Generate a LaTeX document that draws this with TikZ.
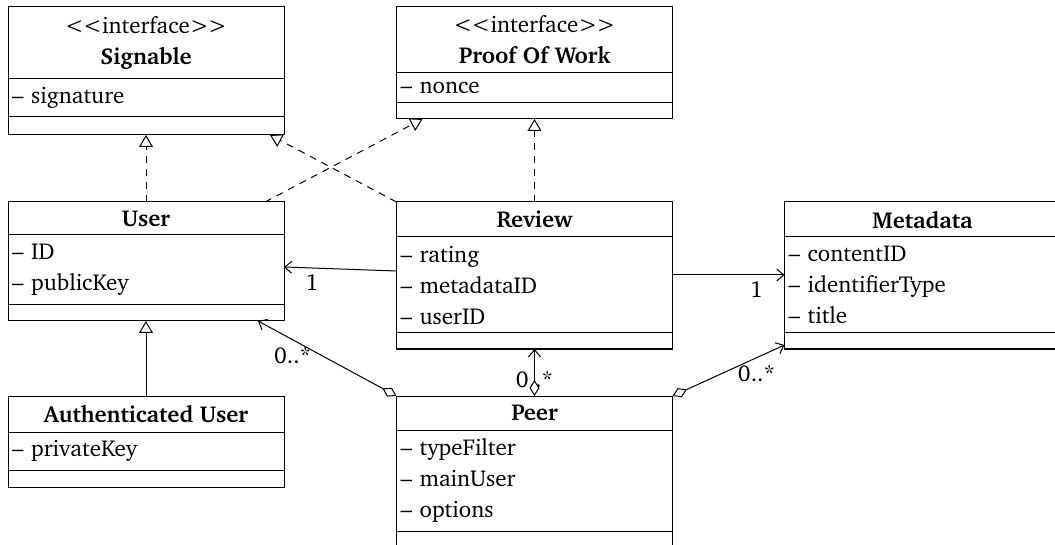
\documentclass[tikz,border=0pt]{standalone}
\usepackage[T1]{fontenc}
\usepackage{charter}
\usetikzlibrary{arrows.meta,positioning}

\newcommand{\iface}{\textless\kern-0.6pt\textless interface\textgreater\kern-0.6pt\textgreater}

\begin{document}
\begin{tikzpicture}[x=0.5pt,y=-0.5pt,line width=0.5pt,
        font=\fontsize{11.5}{15.5}\selectfont,
        >={Straight Barb[length=3.5pt,width=6pt]},
        box/.style={draw,outer sep=0pt,inner sep=0pt,minimum width=138pt},
        head/.style={box,align=center},
        attrs/.style={box,align=left,text width=134pt,inner xsep=2pt},
        real/.style={dash pattern=on 3.5pt off 3pt,-{Triangle[open,length=6pt,width=7pt]}},
        inherit/.style={-{Triangle[open,length=6pt,width=7pt]}},
        agg/.style={{Diamond[fill=white,length=8pt,width=5pt]}->}]
\useasboundingbox (0,0) rectangle (1055,545);

% interfaces
\node[head,anchor=north,minimum height=36pt] (signable) at (146,7) {\iface\\\textbf{Signable}};
\node[attrs,below=0pt of signable,minimum height=19pt] (signableattr) {-- signature};
\node[box,below=0pt of signableattr,minimum height=9pt] (signableops) {};

\node[head,anchor=north,minimum height=33pt] (proof) at (534.5,7) {\iface\\\textbf{Proof Of Work}};
\node[attrs,below=0pt of proof,minimum height=15pt] (proofattr) {-- nonce};
\node[box,below=0pt of proofattr,minimum height=8pt] (proofops) {};

% classes
\node[head,anchor=north,minimum height=16.5pt] (user) at (146,202) {\textbf{User}};
\node[attrs,below=0pt of user,minimum height=35pt] (userattr) {-- ID\\-- publicKey};
\node[box,below=0pt of userattr,minimum height=8pt] (userops) {};

\node[head,anchor=north,minimum height=17.5pt] (review) at (534.5,202) {\textbf{Review}};
\node[attrs,below=0pt of review,minimum height=48pt] (reviewattr) {-- rating\\-- metadataID\\-- userID};
\node[box,below=0pt of reviewattr,minimum height=8pt] (reviewops) {};

\node[head,anchor=north,minimum height=17.5pt] (meta) at (922.5,202) {\textbf{Metadata}};
\node[attrs,below=0pt of meta,minimum height=48pt] (metaattr) {-- contentID\\-- identifierType\\-- title};
\node[box,below=0pt of metaattr,minimum height=8pt] (metaops) {};

\node[head,anchor=north,minimum height=18pt] (auth) at (146,396) {\textbf{Authenticated User}};
\node[attrs,below=0pt of auth,minimum height=19pt] (authattr) {-- privateKey};
\node[box,below=0pt of authattr,minimum height=8.5pt] (authops) {};

\node[head,anchor=north,minimum height=17pt] (peer) at (534.5,396) {\textbf{Peer}};
\node[attrs,below=0pt of peer,minimum height=50.5pt] (peerattr) {-- typeFilter\\-- mainUser\\-- options};
\node[box,below=0pt of peerattr,minimum height=15pt] (peerops) {};

% realization and inheritance
\draw[real] (user.north) -- (signableops.south);
\draw[real] ([xshift=-9.5pt]user.north east) -- ([xshift=13pt]proofops.south west);
\draw[real] (review.north west) -- ([xshift=-7pt]signableops.south east);
\draw[real] (review.north) -- (proofops.south);
\draw[inherit] (auth.north) -- (userops.south);

% associations
\draw[->] ([yshift=7pt]reviewattr.west) -- node[pos=0.75,below] (reviewusermult) {1} ([yshift=1.5pt]userattr.east);
\draw[->] ([yshift=5pt]reviewattr.east) -- node[pos=0.75,below] (reviewmetamult) {1} ([yshift=5pt]metaattr.west);

\path (peer.north) -- node[pos=0.35] (peerreviewmult) {0..*} (reviewops.south);
\draw[agg] (peer.north) -- (reviewops.south);
\draw[agg] (peer.north west) -- node[pos=0.75,below] (peerusermult) {0..*} ([xshift=-13pt]userops.south east);
\draw[agg] (peer.north east) -- node[pos=0.75,below] (peermetamult) {0..*} ([yshift=-2pt]metaops.west);

\end{tikzpicture}
\end{document}
